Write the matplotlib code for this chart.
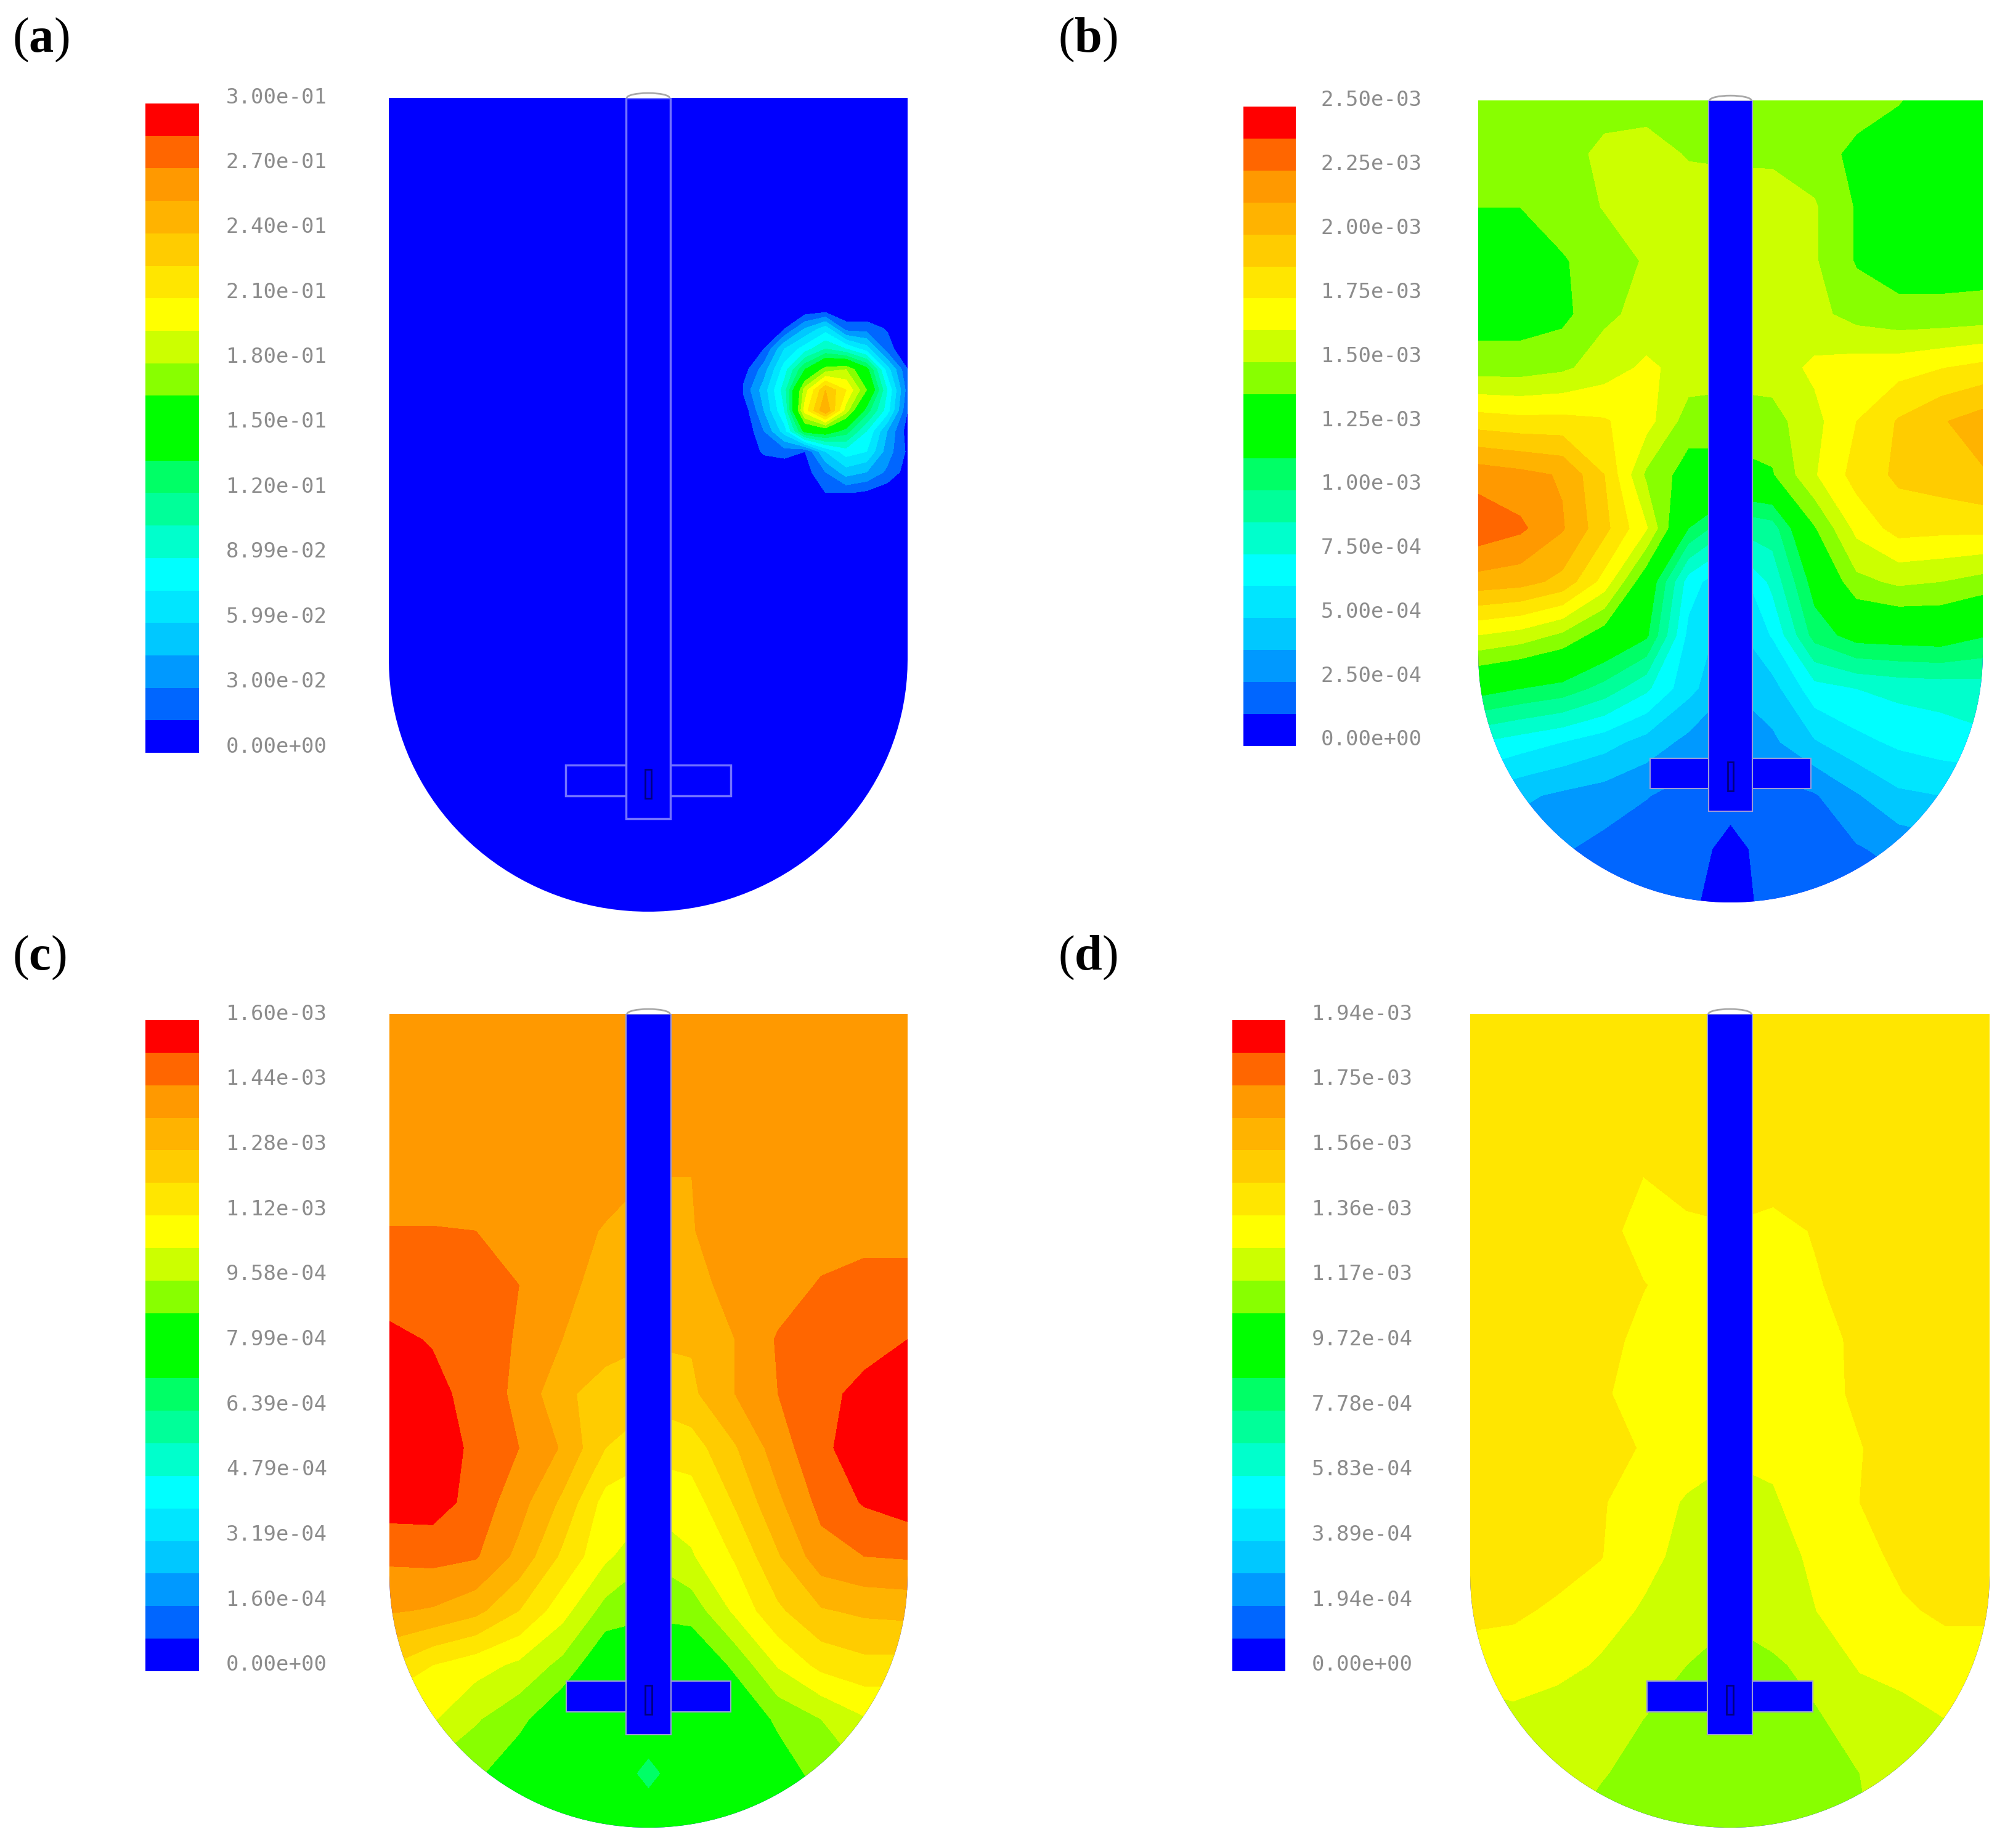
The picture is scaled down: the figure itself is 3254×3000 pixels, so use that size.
""" Contour panels (a)-(d) of the stirred vessel with their legend bars. """
import numpy as np
import matplotlib
matplotlib.use('Agg')
import matplotlib.pyplot as plt
from matplotlib.colors import BoundaryNorm, ListedColormap
from matplotlib.patches import Ellipse, Polygon, Rectangle

plt.rcParams['mathtext.fontset'] = 'custom'
plt.rcParams['mathtext.bf'] = 'Liberation Serif:bold'

WIDTH, HEIGHT = 3255, 3000

# one colour per band, bottom of the legend first
BAND_COLORS = ['#0000ff', '#0066ff', '#0099ff', '#00c8ff', '#00e6ff',
               '#00ffff', '#00ffcc', '#00ff99', '#00ff66', '#00ff00',
               '#00ff00', '#88ff00', '#ccff00', '#ffff00', '#ffe600',
               '#ffcc00', '#ffb300', '#ff9900', '#ff6600', '#ff0000']

LABELS_A = ['0.00e+00', '3.00e-02', '5.99e-02', '8.99e-02', '1.20e-01', '1.50e-01',
            '1.80e-01', '2.10e-01', '2.40e-01', '2.70e-01', '3.00e-01']
LABELS_B = ['0.00e+00', '2.50e-04', '5.00e-04', '7.50e-04', '1.00e-03', '1.25e-03',
            '1.50e-03', '1.75e-03', '2.00e-03', '2.25e-03', '2.50e-03']
LABELS_C = ['0.00e+00', '1.60e-04', '3.19e-04', '4.79e-04', '6.39e-04', '7.99e-04',
            '9.58e-04', '1.12e-03', '1.28e-03', '1.44e-03', '1.60e-03']
LABELS_D = ['0.00e+00', '1.94e-04', '3.89e-04', '5.83e-04', '7.78e-04', '9.72e-04',
            '1.17e-03', '1.36e-03', '1.56e-03', '1.75e-03', '1.94e-03']
MAX_A, MAX_B, MAX_C, MAX_D = 3.00e-01, 2.50e-03, 1.60e-03, 1.94e-03

# fields, in legend bands (0-20), top row first
GRID_U = np.linspace(-1, 1, 13)
GRID_V = np.linspace(0, 1, 16)

FIELD_B = [
    [11.5, 11.5, 11.5, 11.5, 11.5, 11.5, 11.5, 11.5, 11.5, 11.5, 11.05, 10.5, 10.5],
    [11.5, 11.5, 11.5, 12.3, 12.5, 11.9, 11.8, 11.8, 11.5, 10.7, 10.5, 10.5, 10.5],
    [11.0, 11.0, 11.5, 12.05, 12.5, 12.6, 12.6, 12.5, 12.1, 10.9, 10.5, 10.5, 10.5],
    [10.5, 10.5, 10.9, 11.5, 12.1, 12.5, 12.6, 12.5, 12.1, 10.9, 10.5, 10.5, 10.5],
    [10.5, 10.5, 10.7, 11.8, 12.3, 12.5, 12.6, 12.5, 12.3, 11.6, 11.3, 11.3, 11.4],
    [11.5, 11.5, 11.8, 12.5, 13.2, 12.6, 12.4, 12.5, 13.2, 13.5, 13.6, 13.95, 14.3],
    [14.5, 14.3, 14.3, 14.1, 13.4, 11.5, 11.5, 11.6, 12.7, 14.0, 15.1, 15.9, 16.5],
    [17.6, 17.3, 16.9, 15.0, 11.8, 10.5, 10.5, 10.9, 12.9, 14.4, 15.2, 15.5, 15.9],
    [18.7, 18.2, 17.1, 15.3, 13.1, 9.0, 7.0, 7.5, 10.9, 13.3, 14.4, 14.3, 14.3],
    [16.6, 16.4, 15.7, 13.6, 10.1, 5.5, 4.0, 6.3, 9.5, 11.7, 12.2, 12.0, 11.6],
    [13.0, 12.6, 11.8, 10.4, 9.2, 4.7, 3.5, 5.1, 8.4, 9.5, 9.6, 9.7, 9.1],
    [9.5, 9.0, 8.6, 7.6, 6.2, 4.3, 3.0, 3.6, 5.6, 6.0, 6.3, 6.4, 6.5],
    [6.0, 5.5, 5.0, 4.4, 3.6, 2.7, 2.3, 2.8, 3.9, 4.7, 5.2, 5.5, 5.8],
    [3.8, 3.2, 2.8, 2.5, 2.05, 1.6, 1.8, 1.6, 1.9, 2.9, 3.8, 4.0, 4.0],
    [2.5, 2.4, 2.1, 1.7, 1.4, 1.9, 0.3, 1.9, 1.6, 1.9, 2.3, 2.6, 2.6],
    [1.8, 1.8, 1.7, 1.5, 1.4, 1.3, 0.2, 1.6, 1.4, 1.5, 1.6, 1.8, 1.8],
]

FIELD_C = [
    [17.5, 17.5, 17.5, 17.5, 17.5, 17.5, 17.5, 17.5, 17.5, 17.5, 17.5, 17.5, 17.5],
    [17.5, 17.5, 17.5, 17.5, 17.5, 17.5, 17.5, 17.5, 17.5, 17.5, 17.5, 17.5, 17.5],
    [17.5, 17.5, 17.5, 17.5, 17.5, 17.5, 17.5, 17.5, 17.5, 17.5, 17.5, 17.5, 17.5],
    [17.5, 17.5, 17.5, 17.5, 17.5, 17.5, 17.0, 17.0, 17.5, 17.5, 17.5, 17.5, 17.5],
    [18.05, 18.05, 18.0, 17.5, 17.5, 16.9, 16.5, 16.95, 17.5, 17.5, 17.5, 17.5, 17.5],
    [18.4, 18.5, 18.5, 18.0, 17.3, 16.6, 16.4, 16.7, 17.3, 17.5, 18.1, 18.5, 18.5],
    [19.3, 18.9, 18.5, 17.9, 17.0, 16.4, 16.1, 16.1, 17.0, 18.1, 18.5, 18.6, 19.0],
    [19.5, 19.4, 18.5, 17.8, 16.2, 15.6, 15.3, 15.8, 17.0, 18.0, 18.7, 19.3, 19.5],
    [19.5, 19.5, 18.8, 18.0, 16.9, 15.0, 14.3, 14.5, 15.9, 17.5, 18.8, 19.5, 19.5],
    [19.5, 19.5, 18.6, 17.4, 15.8, 13.6, 13.2, 13.5, 15.1, 16.8, 18.3, 19.1, 19.5],
    [18.2, 18.3, 18.1, 16.7, 14.8, 13.2, 12.1, 12.9, 14.1, 15.9, 17.6, 18.0, 18.1],
    [17.1, 16.9, 16.3, 15.0, 13.4, 11.6, 11.2, 11.4, 13.2, 14.8, 15.9, 16.2, 16.3],
    [15.0, 14.0, 13.4, 12.8, 11.7, 10.0, 10.0, 10.0, 11.2, 13.1, 14.3, 14.7, 14.7],
    [13.0, 13.1, 12.1, 11.3, 10.0, 9.5, 9.5, 9.5, 10.0, 11.2, 12.0, 12.9, 13.0],
    [11.5, 11.7, 11.2, 10.2, 9.5, 9.5, 8.8, 9.5, 9.5, 10.4, 11.4, 12.0, 12.0],
    [10.5, 10.5, 10.5, 10.0, 9.5, 9.5, 9.5, 9.5, 9.5, 10.0, 10.5, 10.5, 10.5],
]

FIELD_D = [
    [14.5, 14.5, 14.5, 14.5, 14.5, 14.5, 14.5, 14.5, 14.5, 14.5, 14.5, 14.5, 14.5],
    [14.5, 14.5, 14.5, 14.5, 14.5, 14.5, 14.5, 14.5, 14.5, 14.5, 14.5, 14.5, 14.5],
    [14.5, 14.5, 14.5, 14.5, 14.5, 14.5, 14.5, 14.5, 14.5, 14.5, 14.5, 14.5, 14.5],
    [14.5, 14.5, 14.5, 14.5, 14.0, 14.5, 14.5, 14.5, 14.5, 14.5, 14.5, 14.5, 14.5],
    [14.5, 14.5, 14.5, 14.5, 13.5, 13.7, 13.9, 13.6, 14.1, 14.5, 14.5, 14.5, 14.5],
    [14.5, 14.5, 14.5, 14.5, 14.05, 13.5, 13.5, 13.5, 13.9, 14.5, 14.5, 14.5, 14.5],
    [14.5, 14.5, 14.5, 14.4, 13.7, 13.5, 13.5, 13.5, 13.5, 14.3, 14.5, 14.5, 14.5],
    [14.5, 14.5, 14.5, 14.15, 13.6, 13.5, 13.5, 13.5, 13.6, 14.2, 14.5, 14.5, 14.5],
    [14.5, 14.5, 14.5, 14.5, 13.9, 13.5, 13.2, 13.2, 13.5, 13.95, 14.5, 14.5, 14.5],
    [14.5, 14.5, 14.5, 14.1, 13.5, 12.9, 12.5, 12.9, 13.5, 14.0, 14.5, 14.5, 14.5],
    [14.5, 14.5, 14.5, 14.05, 13.3, 12.7, 12.5, 12.6, 13.2, 13.6, 14.3, 14.5, 14.5],
    [14.3, 14.2, 13.8, 13.4, 12.9, 12.5, 12.2, 12.5, 13.0, 13.4, 13.85, 14.2, 14.2],
    [13.5, 13.4, 13.3, 12.9, 12.5, 12.0, 11.5, 11.85, 12.3, 13.1, 13.3, 13.5, 13.5],
    [12.5, 12.8, 12.5, 12.4, 12.0, 11.5, 11.5, 11.5, 11.9, 12.4, 12.7, 13.0, 13.0],
    [12.5, 12.5, 12.5, 12.1, 11.6, 11.5, 11.5, 11.5, 11.7, 12.0, 12.5, 12.5, 12.5],
    [12.5, 12.5, 12.2, 11.6, 11.5, 11.5, 11.5, 11.5, 11.5, 11.9, 12.4, 12.5, 12.5],
]

# panel (a) is band 0 everywhere except for this patch
PATCH_U = np.linspace(0.367, 1.0, 9)
PATCH_V = np.linspace(0.258, 0.485, 10)
FIELD_A = [
    [0, 0, 0, 0, 0, 0, 0, 0, 0],
    [0, 0, 0.9, 3, 4.5, 1.5, 1.5, 0.9, 0],
    [0, 1, 4, 5.5, 7, 6, 4.5, 1.5, 0],
    [0.5, 2.5, 5.5, 9, 11.5, 12, 9.5, 4.5, 1],
    [1.2, 3.5, 6.5, 12.5, 16, 14, 11, 6, 1.5],
    [0.3, 3, 6, 13.5, 17, 12.5, 8.5, 5.5, 1],
    [0, 2, 4.5, 9.5, 10, 8.5, 6, 3, 0.5],
    [0, 1.2, 1.5, 1, 4, 5.5, 5, 2.5, 0.8],
    [0, 0, 0, 0.5, 2, 3.5, 3, 1.8, 0.5],
    [0, 0, 0, 0, 1, 1.1, 0.8, 0.3, 0],
]

cmap = ListedColormap(BAND_COLORS)


def pixel_axes(fig, left, right, top, bottom):
    """ Axes placed by its pixel box on the figure. """
    return fig.add_axes([left / WIDTH, 1 - bottom / HEIGHT,
                         (right - left) / WIDTH, (bottom - top) / HEIGHT])


def vessel_outline():
    """ Straight walls with an elliptical bottom, in panel coordinates. """
    angle = np.linspace(0, np.pi, 80)
    u = np.concatenate(([1], np.cos(angle), [-1]))
    v = np.concatenate(([0], 0.69 + 0.31 * np.sin(angle), [0]))
    return np.column_stack((u, v))


def draw_impeller(ax, filled):
    """ Shaft, blades and the small hub mark. """
    face = '#0000ff'
    edge = '#7272ff' if not filled else '#9a9ad8'
    ax.add_patch(Ellipse((0, 0), 0.165, 0.012, facecolor='white',
                         edgecolor='#a8a8a8', linewidth=2, clip_on=False, zorder=3))
    ax.add_patch(Rectangle((-0.318, 0.82), 0.636, 0.038, facecolor=face,
                           edgecolor=edge, linewidth=1.5 if filled else 2.5, zorder=4))
    ax.add_patch(Rectangle((-0.086, 0), 0.172, 0.886, facecolor=face,
                           edgecolor=edge, linewidth=1.5 if filled else 2.5, zorder=5))
    ax.add_patch(Rectangle((-0.012, 0.825), 0.024, 0.036, facecolor='none',
                           edgecolor='#000080', linewidth=2, zorder=6))


def draw_panel(fig, box, u, v, field, vmax, filled=True):
    """ One vessel: filled contours clipped to the outline. """
    ax = pixel_axes(fig, *box)
    ax.set_xlim(-1, 1)
    ax.set_ylim(1, 0)
    ax.axis('off')
    levels = np.linspace(0, vmax, 21)
    vessel = Polygon(vessel_outline(), closed=True, facecolor=BAND_COLORS[0],
                     edgecolor='none', zorder=1)
    ax.add_patch(vessel)
    contours = ax.contourf(u, v, np.array(field) * vmax / 20, levels=levels,
                           cmap=cmap, norm=BoundaryNorm(levels, cmap.N), zorder=2)
    contours.set_clip_path(vessel)
    draw_impeller(ax, filled)


def draw_legend(fig, box, labels, vmax, label_x):
    """ Stepped legend bar with its value labels on every second band. """
    ax = pixel_axes(fig, *box)
    levels = np.linspace(0, vmax, 21)
    ax.pcolormesh([0, 1], levels, (levels[:-1] + levels[1:]).reshape(-1, 1) / 2,
                  cmap=cmap, norm=BoundaryNorm(levels, cmap.N))
    ax.set_xlim(0, 1)
    ax.set_ylim(0, vmax)
    ax.axis('off')
    for level, label in zip(levels[::2], labels):
        ax.annotate(label, xy=(1, level), xycoords=ax.get_yaxis_transform(),
                    xytext=(label_x - box[1], 10), textcoords='offset pixels',
                    ha='left', va='center', family='DejaVu Sans Mono',
                    fontsize=24.5, color='#8c8c8c')


fig = plt.figure(figsize=(WIDTH / 100, HEIGHT / 100), dpi=100)

draw_panel(fig, (631, 1473, 159, 1480), PATCH_U, PATCH_V, FIELD_A, MAX_A, filled=False)
draw_panel(fig, (2399, 3218, 163, 1465), GRID_U, GRID_V, FIELD_B, MAX_B)
draw_panel(fig, (632, 1473, 1646, 2967), GRID_U, GRID_V, FIELD_C, MAX_C)
draw_panel(fig, (2386, 3229, 1646, 2967), GRID_U, GRID_V, FIELD_D, MAX_D)

draw_legend(fig, (236, 323, 168, 1222), LABELS_A, MAX_A, 367)
draw_legend(fig, (2018, 2103, 173, 1211), LABELS_B, MAX_B, 2144)
draw_legend(fig, (236, 323, 1656, 2713), LABELS_C, MAX_C, 367)
draw_legend(fig, (2000, 2086, 1656, 2713), LABELS_D, MAX_D, 2129)

for name, x, y in [('a', 20, 84), ('b', 1717, 84), ('c', 20, 1574), ('d', 1717, 1574)]:
    fig.text(x / WIDTH, 1 - y / HEIGHT, r'($\mathbf{' + name + r'}$)',
             family='Liberation Serif', fontsize=58, va='baseline')

fig.savefig('out.png', dpi=100)
